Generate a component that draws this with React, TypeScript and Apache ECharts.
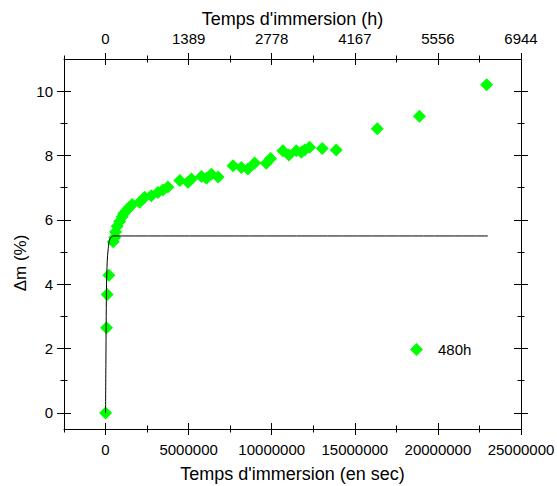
import { useEffect, useRef } from 'react';
import * as echarts from 'echarts';

// Measured data (immersion time in seconds, mass gain in %)
const timeSec = [
  0, 60000, 100000, 200000, 460000, 550000, 600000, 700000, 850000, 1000000,
  1100000, 1250000, 1400000, 1600000, 2050000, 2350000, 2750000, 3150000, 3450000, 3750000,
  4470000, 4960000, 5170000, 5770000, 6070000, 6370000, 6770000, 7670000, 8170000, 8570000,
  8970000, 9670000, 9930000, 10670000, 11030000, 11480000, 11780000, 11980000, 12280000, 13040000,
  13880000, 16350000, 18890000, 22930000,
];
const deltaM = [
  0, 2.65, 3.68, 4.28, 5.32, 5.45, 5.62, 5.8, 5.95, 6.1,
  6.2, 6.28, 6.38, 6.48, 6.55, 6.7, 6.75, 6.85, 6.93, 7.02,
  7.22, 7.17, 7.27, 7.35, 7.29, 7.42, 7.33, 7.68, 7.63, 7.58,
  7.77, 7.76, 7.91, 8.15, 8.02, 8.15, 8.1, 8.17, 8.26, 8.22,
  8.17, 8.83, 9.22, 10.2,
];
// Fitted curve
const fitTimeSec = [0, 20000, 40000, 60000, 100000, 160000, 260000, 460000, 23000000];
const fitDeltaM = [0, 1.5, 3.0, 4.0, 4.7, 5.1, 5.4, 5.5, 5.5];

const seriesName = '480h';
const SEC_PER_HOUR = 3600;
const xMajorTicks = [0, 5000000, 10000000, 15000000, 20000000, 25000000];
const xMinorTicks = [-2500000, 2500000, 7500000, 12500000, 17500000, 22500000];
const yMajorTicks = [0, 2, 4, 6, 8, 10];
const yMinorTicks = [1, 3, 5, 7, 9];
const xTitleBottom = "Temps d'immersion (en sec)";
const xTitleTop = "Temps d'immersion (h)";
const yTitle = 'Δm (%)';

const X_MIN = -2500000;
const X_MAX = 25000000;
const Y_MIN = -0.5;
const Y_MAX = 11;
const FONT = "'Liberation Sans', Arial, Helvetica, sans-serif";
const BLACK = '#000000';

function xAxisSet(position: string, formatter: ((v: number) => string) | null) {
  const base = { type: 'value', position, min: X_MIN, max: X_MAX, splitLine: { show: false } };
  return [
    {
      ...base,
      axisLine: { show: true, onZero: false, lineStyle: { color: BLACK, width: 1 } },
      axisTick: { show: false },
      axisLabel: formatter
        ? { show: true, customValues: xMajorTicks, formatter, fontSize: 15, color: BLACK, fontFamily: FONT, margin: 13 }
        : { show: false },
    },
    {
      ...base,
      offset: -6,
      axisLine: { show: false, onZero: false },
      axisTick: { show: true, customValues: xMajorTicks, length: 12, lineStyle: { color: BLACK, width: 1 } },
      axisLabel: { show: false },
    },
    {
      ...base,
      offset: -3.5,
      axisLine: { show: false, onZero: false },
      axisTick: { show: true, customValues: xMinorTicks, length: 7, lineStyle: { color: BLACK, width: 1 } },
      axisLabel: { show: false },
    },
  ];
}

function yAxisSet(position: string, showLabels: boolean) {
  const base = { type: 'value', position, min: Y_MIN, max: Y_MAX, splitLine: { show: false } };
  return [
    {
      ...base,
      axisLine: { show: true, onZero: false, lineStyle: { color: BLACK, width: 1 } },
      axisTick: { show: false },
      axisLabel: showLabels
        ? { show: true, customValues: yMajorTicks, fontSize: 15, color: BLACK, fontFamily: FONT, margin: 11 }
        : { show: false },
    },
    {
      ...base,
      offset: -7,
      axisLine: { show: false, onZero: false },
      axisTick: { show: true, customValues: yMajorTicks, length: 14, lineStyle: { color: BLACK, width: 1 } },
      axisLabel: { show: false },
    },
    {
      ...base,
      offset: -3.5,
      axisLine: { show: false, onZero: false },
      axisTick: { show: true, customValues: yMinorTicks, length: 7, lineStyle: { color: BLACK, width: 1 } },
      axisLabel: { show: false },
    },
  ];
}

export default function App() {
  const ref = useRef<HTMLDivElement>(null);

  useEffect(() => {
    if (!ref.current) return;
    const chart = echarts.init(ref.current, null, { renderer: 'svg' });
    const points = timeSec.map((t, i) => [t, deltaM[i]]);
    const fit = fitTimeSec.map((t, i) => [t, fitDeltaM[i]]);

    const option: any = {
      animation: false,
      backgroundColor: '#ffffff',
      grid: { left: 64, right: 36, top: 59, bottom: 57, containLabel: false, outerBoundsMode: 'none' },
      xAxis: [
        ...xAxisSet('bottom', (v: number) => String(v)),
        ...xAxisSet('top', (v: number) => String(Math.round(v / SEC_PER_HOUR))),
      ],
      yAxis: [...yAxisSet('left', true), ...yAxisSet('right', false)],
      legend: {
        show: true,
        data: [seriesName],
        left: 405,
        top: 337,
        icon: 'diamond',
        itemWidth: 13,
        itemHeight: 13,
        selectedMode: false,
        itemStyle: { opacity: 1 },
        textStyle: { fontSize: 15, color: BLACK, fontFamily: FONT, padding: [0, 0, 0, 10] },
      },
      graphic: [
        {
          type: 'text',
          x: 292.5,
          y: 19,
          style: { text: xTitleTop, fontSize: 18, fontFamily: FONT, fill: BLACK, align: 'center', verticalAlign: 'middle' },
        },
        {
          type: 'text',
          x: 292.5,
          y: 474,
          style: { text: xTitleBottom, fontSize: 18, fontFamily: FONT, fill: BLACK, align: 'center', verticalAlign: 'middle' },
        },
        {
          type: 'text',
          x: 20,
          y: 263,
          rotation: Math.PI / 2,
          style: { text: yTitle, fontSize: 17, fontFamily: FONT, fill: BLACK, align: 'center', verticalAlign: 'middle' },
        },
      ],
      series: [
        {
          name: seriesName,
          type: 'scatter',
          xAxisIndex: 0,
          yAxisIndex: 0,
          data: points,
          symbol: 'diamond',
          symbolSize: 13,
          itemStyle: { color: '#00ff00', opacity: 1 },
          z: 2,
        },
        {
          name: 'fit',
          type: 'line',
          xAxisIndex: 0,
          yAxisIndex: 0,
          data: fit,
          showSymbol: false,
          symbol: 'none',
          smooth: 0.3,
          lineStyle: { color: BLACK, width: 1 },
          z: 3,
        },
      ],
    };
    chart.setOption(option);
    return () => chart.dispose();
  }, []);

  return <div ref={ref} style={{ position: 'fixed', left: 0, top: 0, width: 557, height: 486 }} />;
}
